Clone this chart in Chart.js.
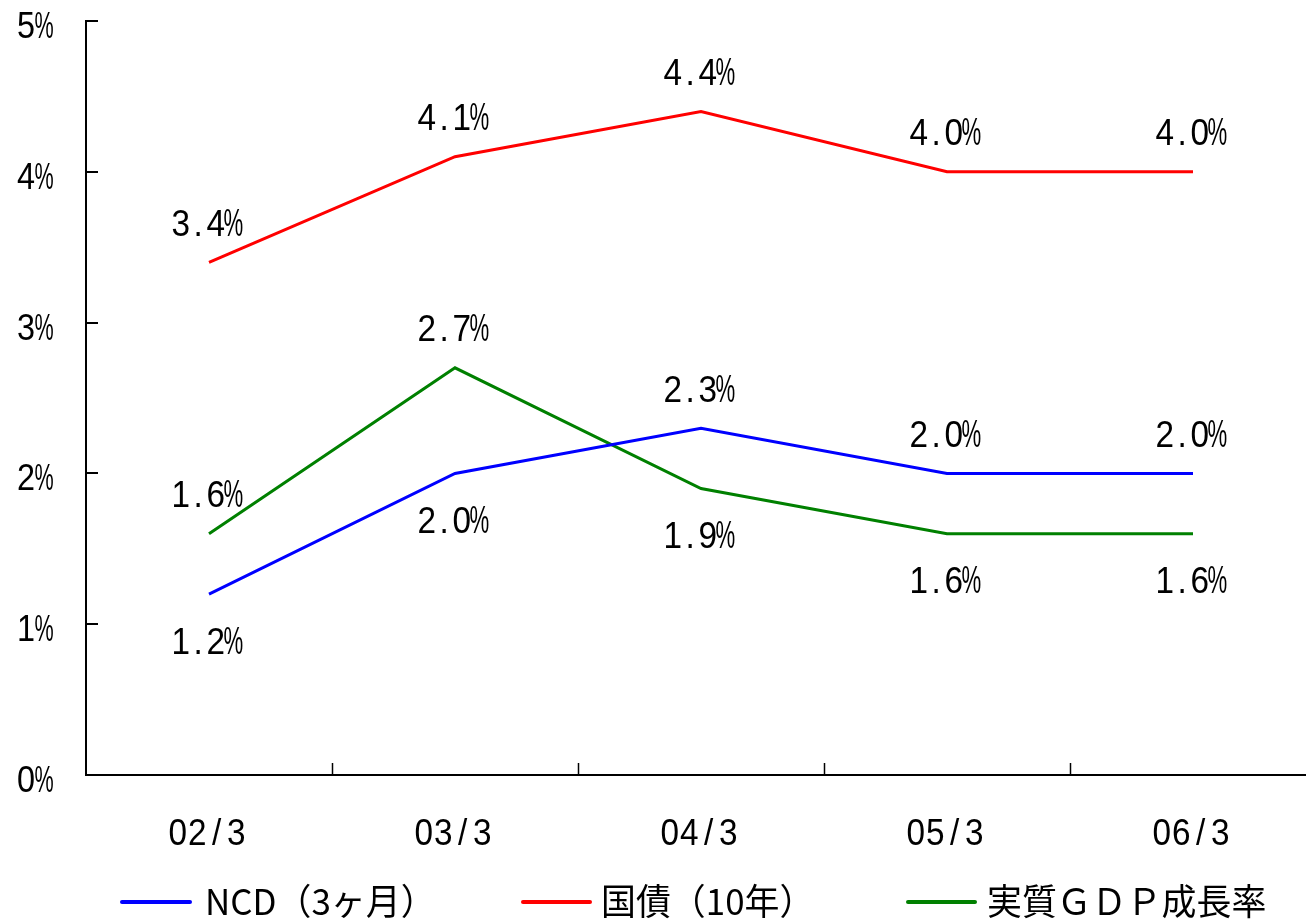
<!DOCTYPE html>
<html>
<head>
<meta charset="utf-8">
<script src="https://cdn.jsdelivr.net/npm/chart.js@4.4.1/dist/chart.umd.min.js"></script>
<style>
html,body{margin:0;padding:0;overflow:hidden;background:#fff;}
#wrap{width:1316px;height:922px;}
</style>
</head>
<body>
<div id="wrap"><canvas id="c" width="1316" height="922"></canvas></div>
<script>
const categories = ['02/3', '03/3', '04/3', '05/3', '06/3'];
const ncd = [1.2, 2.0, 2.3, 2.0, 2.0];
const jgb = [3.4, 4.1, 4.4, 4.0, 4.0];
const gdp = [1.6, 2.7, 1.9, 1.6, 1.6];
const yTickValues = [0, 1, 2, 3, 4, 5];
const yTickLabels = ['0%', '1%', '2%', '3%', '4%', '5%'];
const seriesNames = ['NCD（3ヶ月）', '国債（10年）', '実質ＧＤＰ成長率'];
// label placement per series: 'a' above, 'b' below
const ncdLabelSide = ['b', 'b', 'a', 'a', 'a'];
const jgbLabelSide = ['a', 'a', 'a', 'a', 'a'];
const gdpLabelSide = ['a', 'a', 'b', 'b', 'b'];

const FONT = '"Liberation Sans", Arial, sans-serif';

function drawCells(ctx, text, cx, baseline, cell, size) {
  const n = text.length;
  const x0 = cx - n * cell / 2;
  ctx.font = size + 'px ' + FONT;
  ctx.textAlign = 'center';
  ctx.textBaseline = 'alphabetic';
  for (let i = 0; i < n; i++) {
    const ch = text[i];
    ctx.save();
    ctx.translate(x0 + (i + 0.5) * cell, baseline);
    if (ch === '%') {
      ctx.scale(0.6, 1.04);
    } else {
      ctx.scale(0.9, 1);
    }
    ctx.fillText(ch, 0, 0);
    ctx.restore();
  }
}

const customDraw = {
  id: 'customDraw',
  afterDraw(chart) {
    const ctx = chart.ctx;
    const xs = chart.scales.x, ys = chart.scales.y;
    const area = chart.chartArea;
    ctx.save();
    ctx.strokeStyle = '#000';
    ctx.fillStyle = '#000';
    ctx.lineWidth = 2;
    // inward y ticks
    yTickValues.forEach((v, i) => {
      const y = Math.round(ys.getPixelForValue(v));
      ctx.beginPath();
      ctx.moveTo(area.left, y);
      ctx.lineTo(area.left + 12, y);
      ctx.stroke();
      drawCells(ctx, yTickLabels[i], 53 - yTickLabels[i].length * 18 / 2, y + 17, 18, 36);
    });
    // inward x ticks at category boundaries
    for (let i = 0; i < categories.length - 1; i++) {
      const x = Math.round((xs.getPixelForValue(i) + xs.getPixelForValue(i + 1)) / 2) + 0.5;
      ctx.lineWidth = 1.5;
      ctx.beginPath();
      ctx.moveTo(x, area.bottom);
      ctx.lineTo(x, area.bottom - 12);
      ctx.stroke();
    }
    // x labels
    categories.forEach((c, i) => {
      drawCells(ctx, c, xs.getPixelForValue(i) - 2, area.bottom + 70, 19.5, 37);
    });
    // data labels
    const sides = [ncdLabelSide, jgbLabelSide, gdpLabelSide];
    chart.data.datasets.forEach((ds, di) => {
      ds.data.forEach((v, i) => {
        const x = xs.getPixelForValue(i) - 2;
        const y = ys.getPixelForValue(v);
        const cy = sides[di][i] === 'a' ? y - 40 : y + 46;
        drawCells(ctx, v.toFixed(1) + '%', x, cy + 13.5, 17.5, 37);
      });
    });
    // legend
    const lineX = [[122, 190], [523, 590], [908, 975]];
    const textX = [205, 601, 987];
    chart.data.datasets.forEach((ds, di) => {
      ctx.strokeStyle = ds.borderColor;
      ctx.lineWidth = 4;
      ctx.lineCap = 'round';
      ctx.beginPath();
      ctx.moveTo(lineX[di][0], 902);
      ctx.lineTo(lineX[di][1], 902);
      ctx.stroke();
      ctx.save();
      ctx.fillStyle = '#000';
      ctx.font = '36px "Noto Sans CJK JP", sans-serif';
      ctx.textAlign = 'left';
      ctx.textBaseline = 'alphabetic';
      ctx.translate(textX[di], 915);
      ctx.scale(0.97, 1);
      ctx.fillText(ds.label, 0, 0);
      ctx.restore();
    });
    ctx.restore();
  }
};

new Chart(document.getElementById('c'), {
  type: 'line',
  data: {
    labels: categories,
    datasets: [
      { label: seriesNames[0], data: ncd, borderColor: '#0000FF', backgroundColor: '#0000FF' },
      { label: seriesNames[1], data: jgb, borderColor: '#FF0000', backgroundColor: '#FF0000' },
      { label: seriesNames[2], data: gdp, borderColor: '#008000', backgroundColor: '#008000' }
    ]
  },
  options: {
    responsive: false,
    animation: false,
    devicePixelRatio: 1,
    layout: { padding: { top: 21, left: 0, right: 0, bottom: 0 } },
    elements: {
      line: { borderWidth: 3, tension: 0, fill: false },
      point: { radius: 0, hoverRadius: 0 }
    },
    plugins: { legend: { display: false }, tooltip: { enabled: false } },
    scales: {
      x: {
        type: 'category',
        offset: true,
        grid: { display: false, offset: true },
        ticks: { display: false },
        border: { display: true, color: '#000', width: 2 },
        afterFit(s) { s.height = 147; }
      },
      y: {
        min: 0, max: 5,
        grid: { display: false },
        ticks: { display: false, stepSize: 1 },
        border: { display: true, color: '#000', width: 2 },
        afterFit(s) { s.width = 86; }
      }
    }
  },
  plugins: [customDraw]
});
</script>
</body>
</html>
